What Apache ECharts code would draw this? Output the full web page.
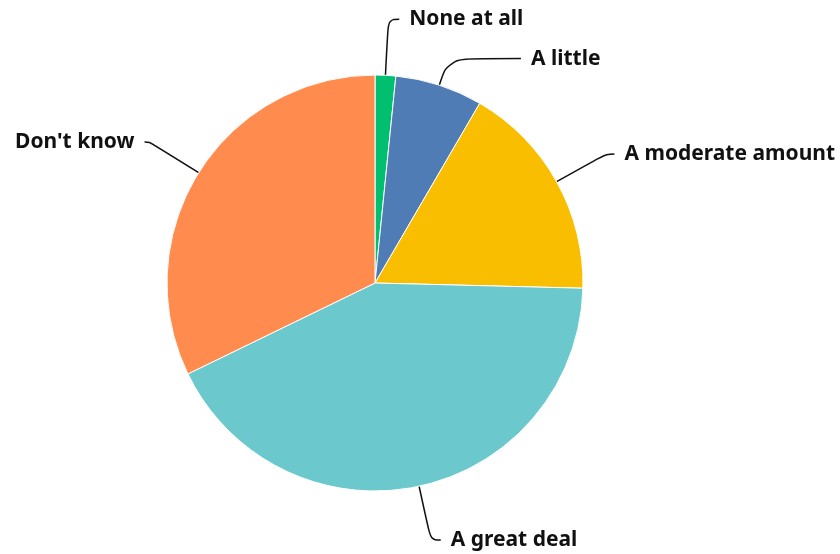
<!DOCTYPE html>
<html>
<head>
<meta charset="utf-8">
<script src="https://cdn.jsdelivr.net/npm/echarts@6/dist/echarts.min.js"></script>
<style>
  html, body { margin: 0; padding: 0; background: #ffffff; }
  #chart { width: 840px; height: 554px; }
</style>
</head>
<body>
<div id="chart"></div>
<script>
// Survey answers, share of respondents (%)
const categories = ['None at all', 'A little', 'A moderate amount', 'A great deal', "Don't know"];
const shares = [1.6, 6.8, 17.0, 42.4, 32.2];
const colors = ['#00BF6F', '#507CB6', '#F9BE00', '#6BC8CD', '#FF8B4F'];
// leader line segment lengths per slice: [radial, horizontal]
const leaderLengths = [[56, 11], [28, 73], [57, 8], [55, 10], [58, 5]];

const chart = echarts.init(document.getElementById('chart'), null, { renderer: 'canvas' });

chart.setOption({
  animation: false,
  backgroundColor: '#ffffff',
  series: [{
    type: 'pie',
    left: 0,
    top: 0,
    right: -60,
    bottom: 0,
    center: [375, 283],
    radius: [0, 208],
    startAngle: 90,
    clockwise: true,
    avoidLabelOverlap: false,
    itemStyle: { borderColor: '#ffffff', borderWidth: 1 },
    label: {
      show: true,
      position: 'outside',
      color: '#111111',
      fontFamily: 'Noto Sans',
      fontWeight: 'bold',
      fontSize: 21,
      distanceToLabelLine: 10,
      formatter: '{b}'
    },
    labelLine: {
      show: true,
      smooth: 0.4,
      lineStyle: { color: '#111111', width: 1.5 }
    },
    emphasis: { disabled: true },
    data: categories.map((name, i) => ({
      name: name,
      value: shares[i],
      itemStyle: { color: colors[i] },
      labelLine: { length: leaderLengths[i][0], length2: leaderLengths[i][1] }
    }))
  }]
});
</script>
</body>
</html>
